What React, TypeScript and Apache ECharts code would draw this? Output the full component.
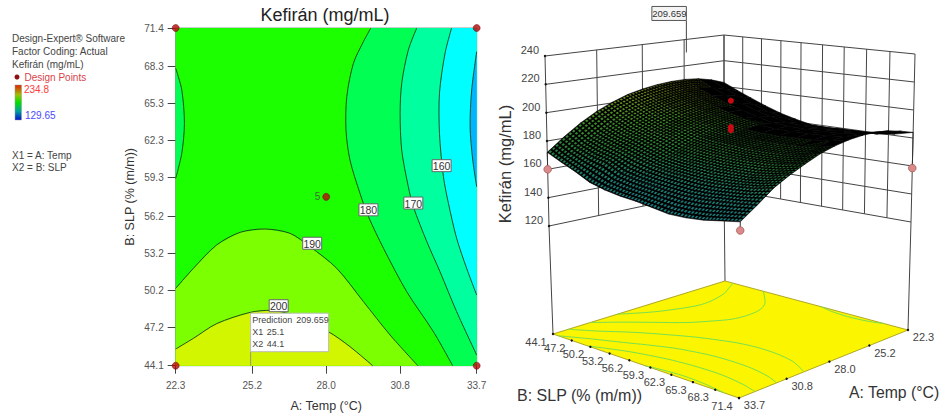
import React, { useEffect, useRef } from "react";
import * as echarts from "echarts";

const FONT = "Liberation Sans, Arial, sans-serif";

// ---- tick values
const tempTicks = [22.3, 25.2, 28.0, 30.8, 33.7];
const slpTicks = [44.1, 47.2, 50.2, 53.2, 56.2, 59.3, 62.3, 65.3, 68.3, 71.4];
const zTicks = [120, 140, 160, 180, 200, 220, 240];

// ---- contour lines: [Temp, SLP]
const contour200 = [[22.3,45.45],[22.97,46.31],[23.85,47.5],[25.12,48.41],[25.94,48.57],[26.63,48.26],[28.08,46.85],[28.9,45.64],[29.76,44.1]];
const contour190 = [[22.3,50.35],[22.97,51.97],[23.85,53.86],[24.74,54.88],[25.68,55.15],[26.63,54.8],[27.39,53.72],[28.4,51.97],[29.41,49.28],[30.42,46.58],[31.47,44.1]];
const contour180 = [[29.69,71.4],[29.41,70.3],[29.03,68.54],[28.78,65.85],[28.75,63.15],[28.9,60.73],[29.28,58.03],[29.6,56.15],[30.17,53.59],[31.05,50.08],[32.06,46.85],[32.79,44.1]];
const contour180Left = [[22.3,68.14],[22.53,66.39],[22.63,63.69],[22.53,61.27],[22.3,59.24]];
const contour170 = [[31.43,71.4],[31.11,69.62],[30.86,66.93],[30.8,64.5],[30.86,61.53],[31.11,58.57],[31.3,56.95],[31.81,54.13],[32.31,51.7],[32.94,48.47],[33.7,44.96]];
const contour160 = [[32.75,71.4],[32.5,69.35],[32.29,66.12],[32.29,62.88],[32.44,59.38],[32.63,57.22],[32.94,54.4],[33.32,51.97],[33.7,49.81]];
const contour150 = [[33.7,69.49],[33.51,66.39],[33.45,63.42],[33.55,60.73],[33.7,58.57]];

const corners = { ll: [22.3, 44.1], lr: [33.7, 44.1], ur: [33.7, 71.4], ul: [22.3, 71.4] };
const bands = [
  { color: "#1cff00", pts: [corners.ll, corners.lr, corners.ur, corners.ul] },
  { color: "#00ff52", pts: [...contour180, corners.lr, corners.ur] },
  { color: "#00ff52", pts: contour180Left },
  { color: "#00ff9e", pts: [...contour170, corners.lr, corners.ur] },
  { color: "#00ffff", pts: [...contour160, corners.lr, corners.ur] },
  { color: "#00b4ff", pts: contour150 },
  { color: "#7cff00", pts: [...contour190, corners.ll] },
  { color: "#d2f500", pts: [...contour200, corners.ll] },
];
const contours = [contour200, contour190, contour180, contour180Left, contour170, contour160, contour150];

const contourLabels = [
  { level: "160", at: [32.37, 60.27] },
  { level: "170", at: [31.3, 57.25] },
  { level: "180", at: [29.6, 56.7] },
  { level: "190", at: [27.47, 54.0] },
  { level: "200", at: [26.2, 48.95] },
];
const designPoints2D = [[22.3, 44.1], [22.3, 71.4], [33.7, 44.1], [33.7, 71.4], [28.0, 57.75]];
const prediction = { temp: 25.1, slp: 44.1, value: 209.659 };

// ---- fitted surface: one row per SLP, one column per Temp
const tempGrid = [22.3, 23.25, 24.2, 25.15, 26.1, 27.05, 28.0, 28.95, 29.9, 30.85, 31.8, 32.75, 33.7];
const slpGrid = [44.1, 46.4, 48.6, 50.9, 53.2, 55.5, 57.75, 60, 62.3, 64.6, 66.9, 69.1, 71.4];
const surface = [
  [203, 206.5, 208.8, 209.7, 209.6, 208.7, 207, 204.5, 200.5, 195.5, 189, 181, 172],
  [198, 201, 203.5, 204.5, 204.5, 203.5, 201.5, 198.5, 194, 188, 181.5, 175, 167],
  [193.5, 196.5, 199, 200, 200, 199, 197, 193.5, 189, 183.5, 178, 171, 162.5],
  [189, 192, 194.5, 196, 196, 195, 192.5, 189, 185, 180.5, 174.5, 168.5, 157],
  [185, 188, 190.8, 192.5, 192.8, 191.5, 189.3, 186, 182, 176.5, 171, 163, 154],
  [182, 185, 187.5, 189.3, 189.8, 188.5, 186, 182.5, 178, 173, 168, 160.5, 152],
  [179.5, 182.5, 184.8, 186.3, 186.5, 185.5, 183.5, 181, 176.5, 171.3, 166, 159, 150.8],
  [179, 182, 184, 185.5, 185.5, 184.5, 182.5, 180.2, 175.5, 170.5, 165, 157.5, 149],
  [179.5, 182, 184, 185, 185.3, 184.3, 182.5, 179.3, 175, 169.8, 164, 156.5, 147],
  [179.5, 182.2, 184.2, 185.3, 185.5, 184.5, 182.5, 179.3, 175, 169.8, 164, 156.5, 147],
  [179.3, 182.5, 184.6, 185.8, 186, 185, 183, 179.7, 175.6, 170, 164.8, 157.5, 148],
  [181, 184, 186, 187, 187.2, 186.2, 184, 180.8, 177, 171.5, 165.8, 158.5, 150],
  [184, 186.8, 189, 190, 190, 189, 187, 184, 179.5, 174.5, 168.5, 160, 152],
];
const centerRuns3D = [207.5, 188.8, 186.7];
const cornerRuns3D = [
  { temp: 33.7, slp: 44.1, z: 160, surf: 172 },
  { temp: 33.7, slp: 71.4, z: 146.5, surf: 152 },
  { temp: 22.3, slp: 71.4, z: 158.5, surf: 184 },
];

// ---- camera: where the corners of the 3D box land on the page [back, left(33.7,44.1), front, right(22.3,71.4)]
const floorQuad = [[725, 281], [553, 334], [739, 398], [908, 330]];
const z120Quad = [[724, 189], [549, 226], [740, 272], [911, 222]];
const z240Quad = [[724, 35], [545, 56], [741, 84], [915, 54]];

function homography(q: number[][]) {
  const [[x0, y0], [x1, y1], [x2, y2], [x3, y3]] = q;
  const dx1 = x1 - x2, dx2 = x3 - x2, sx = x0 - x1 + x2 - x3;
  const dy1 = y1 - y2, dy2 = y3 - y2, sy = y0 - y1 + y2 - y3;
  const den = dx1 * dy2 - dx2 * dy1;
  const g = (sx * dy2 - dx2 * sy) / den, h = (dx1 * sy - sx * dy1) / den;
  const a = x1 - x0 + g * x1, b = x3 - x0 + h * x3, d = y1 - y0 + g * y1, e = y3 - y0 + h * y3;
  return (u: number, v: number) => {
    const w = g * u + h * v + 1;
    return [(a * u + b * v + x0) / w, (d * u + e * v + y0) / w];
  };
}
const Hfloor = homography(floorQuad), H120 = homography(z120Quad), H240 = homography(z240Quad);
const uOf = (t: number) => (t - 22.3) / 11.4;
const vOf = (s: number) => (s - 44.1) / 27.3;
const onFloor = (t: number, s: number) => Hfloor(uOf(t), vOf(s));
const project = (t: number, s: number, z: number) => {
  const p = H120(uOf(t), vOf(s)), q = H240(uOf(t), vOf(s)), k = (z - 120) / 120;
  return [p[0] + (q[0] - p[0]) * k, p[1] + (q[1] - p[1]) * k];
};

// ---- 3D wall lines, built from the ticks
const wallLines: number[][][] = [];
zTicks.forEach((z) => {
  wallLines.push([project(33.7, 44.1, z), project(22.3, 44.1, z)]);
  wallLines.push([project(22.3, 44.1, z), project(22.3, 71.4, z)]);
});
tempTicks.forEach((t) => wallLines.push([project(t, 44.1, 120), project(t, 44.1, 240)]));
slpTicks.forEach((s) => wallLines.push([project(22.3, s, 120), project(22.3, s, 240)]));
wallLines.push([onFloor(33.7, 44.1), project(33.7, 44.1, 120)]);
wallLines.push([onFloor(22.3, 44.1), project(22.3, 44.1, 120)]);
wallLines.push([onFloor(22.3, 71.4), project(22.3, 71.4, 120)]);

const SUB = 5;
const lerp = (a: number, b: number, k: number) => a + (b - a) * k;
function dotColor(z: number, lit: number) {
  const stops = [[145, 22, 120, 128], [160, 26, 120, 108], [175, 40, 125, 55], [190, 60, 135, 38], [205, 115, 140, 28]];
  let c = stops[stops.length - 1];
  if (z <= stops[0][0]) c = stops[0];
  else for (let i = 0; i < stops.length - 1; i++) {
    if (z >= stops[i][0] && z <= stops[i + 1][0]) {
      const k = (z - stops[i][0]) / (stops[i + 1][0] - stops[i][0]);
      c = [z, lerp(stops[i][1], stops[i + 1][1], k), lerp(stops[i][2], stops[i + 1][2], k), lerp(stops[i][3], stops[i + 1][3], k)];
      break;
    }
  }
  return `rgb(${Math.round(c[1] * lit)},${Math.round(c[2] * lit)},${Math.round(c[3] * lit)})`;
}
const area = (a: number[], b: number[], c: number[], d: number[]) =>
  Math.abs((c[0] - a[0]) * (d[1] - b[1]) - (d[0] - b[0]) * (c[1] - a[1])) / 2;

const surfaceCells: number[][] = [];
for (let j = 0; j < slpGrid.length - 1; j++) for (let i = 0; i < tempGrid.length - 1; i++) surfaceCells.push([i, j]);
surfaceCells.sort((a, b) => a[0] + a[1] - b[0] - b[1]);

function renderSurfaceCell(params: any) {
  const [i, j] = surfaceCells[params.dataIndex];
  const zAt = (s: number, t: number) =>
    lerp(lerp(surface[j][i], surface[j][i + 1], s), lerp(surface[j + 1][i], surface[j + 1][i + 1], s), t);
  const P = (s: number, t: number) =>
    project(lerp(tempGrid[i], tempGrid[i + 1], s), lerp(slpGrid[j], slpGrid[j + 1], t), zAt(s, t));
  const children: any[] = [
    {
      type: "polygon",
      shape: { points: [P(0, 0), P(1, 0), P(1, 1), P(0, 1)] },
      style: { fill: "#000", stroke: "#000", lineWidth: 0.6 },
    },
  ];
  for (let a = 0; a < SUB; a++) for (let b = 0; b < SUB; b++) {
    const s0 = (a + 0.22) / SUB, s1 = (a + 0.78) / SUB, t0 = (b + 0.22) / SUB, t1 = (b + 0.78) / SUB;
    const p = [P(s0, t0), P(s1, t0), P(s1, t1), P(s0, t1)];
    const ar = area(p[0], p[1], p[2], p[3]);
    const lit = Math.min(1, Math.max(0, (ar - 1.5) / 1.6));
    if (lit <= 0.02) continue;
    children.push({
      type: "polygon",
      shape: { points: p },
      style: { fill: dotColor(zAt((a + 0.5) / SUB, (b + 0.5) / SUB), 0.3 + 0.75 * lit) },
    });
  }
  return { type: "group", children };
}

const textEl = (x: number, y: number, text: string, fontSize: number, fill: string, align = "center", extra: any = {}) => ({
  type: "text",
  x,
  y,
  ...extra,
  style: { text, fontSize, fontFamily: FONT, fill, align, verticalAlign: "middle" },
});

function renderFloorLabels() {
  const kids: any[] = [];
  slpTicks.forEach((s) => {
    const p = onFloor(33.7, s);
    kids.push({ type: "circle", shape: { cx: p[0], cy: p[1], r: 1.2 }, style: { fill: "#111" } });
    kids.push(textEl(p[0] - 17, p[1] + 7.5, s.toFixed(1), 11, "#444"));
  });
  tempTicks.forEach((t) => {
    const p = onFloor(t, 71.4);
    kids.push({ type: "circle", shape: { cx: p[0], cy: p[1], r: 1.2 }, style: { fill: "#111" } });
    kids.push(textEl(p[0] + 15.5, p[1] + 7, t.toFixed(1), 11, "#444"));
  });
  zTicks.forEach((z) => {
    const p = project(33.7, 44.1, z);
    kids.push({ type: "circle", shape: { cx: p[0], cy: p[1], r: 1.2 }, style: { fill: "#111" } });
    kids.push(textEl(p[0] - 6, p[1] - 6, String(z), 11, "#444", "right"));
  });
  return { type: "group", children: kids };
}

const noneSeries = (data: any[], renderItem: any) => ({
  type: "custom",
  coordinateSystem: "none",
  silent: true,
  animation: false,
  data,
  renderItem,
});

const legendLines = [
  { text: "Design-Expert® Software", x: 12, y: 38, color: "#444" },
  { text: "Factor Coding: Actual", x: 12, y: 51, color: "#444" },
  { text: "Kefirán (mg/mL)", x: 12, y: 64, color: "#444" },
  { text: "Design Points", x: 24.5, y: 77, color: "#d8434a" },
  { text: "234.8", x: 24, y: 89.5, color: "#ff3b3b" },
  { text: "129.65", x: 25, y: 115.5, color: "#4a4aff" },
  { text: "X1 = A: Temp", x: 12, y: 155, color: "#444" },
  { text: "X2 = B: SLP", x: 12, y: 167, color: "#444" },
];

export default function App() {
  const ref = useRef<HTMLDivElement>(null);
  useEffect(() => {
    const chart = echarts.init(ref.current!, undefined, { renderer: "svg" });
    const axisCommon = {
      axisLine: { show: true, onZero: false, lineStyle: { color: "#8c9a9a", width: 1 } },
      axisTick: { show: true, length: 8, lineStyle: { color: "#444" } },
      splitLine: { show: false },
      nameLocation: "middle",
      nameTextStyle: { color: "#333", fontSize: 12.5, fontFamily: FONT },
    };
    chart.setOption({
      animation: false,
      title: {
        text: "Kefirán (mg/mL)",
        left: 320,
        top: 1,
        textAlign: "center",
        textStyle: { fontSize: 18, fontWeight: "normal", color: "#222", fontFamily: FONT },
      },
      grid: {
        left: 175.7,
        top: 28,
        width: 301,
        height: 337.7,
        show: true,
        borderColor: "#8c9a9a",
        backgroundColor: "transparent",
        outerBoundsMode: "none",
      },
      xAxis: {
        ...axisCommon,
        type: "value",
        min: 22.3,
        max: 33.7,
        name: "A: Temp (°C)",
        nameGap: 34,
        axisTick: { ...axisCommon.axisTick, customValues: tempTicks },
        axisLabel: { customValues: tempTicks, formatter: (v: number) => v.toFixed(1), color: "#555", fontSize: 10, fontFamily: FONT, margin: 15 },
      },
      yAxis: {
        ...axisCommon,
        type: "value",
        min: 44.1,
        max: 71.4,
        name: "B: SLP (% (m/m))",
        nameGap: 39,
        axisTick: { ...axisCommon.axisTick, customValues: slpTicks },
        axisLabel: { customValues: slpTicks, formatter: (v: number) => v.toFixed(1), color: "#555", fontSize: 10, fontFamily: FONT, margin: 12 },
      },
      graphic: [
        ...legendLines.map((l) => ({
          type: "text",
          x: l.x,
          y: l.y,
          style: { text: l.text, fontSize: 10, fontFamily: FONT, fill: l.color, align: "left", verticalAlign: "middle" },
        })),
        { type: "circle", shape: { cx: 17, cy: 77, r: 2.5 }, style: { fill: "#8c1010" } },
        {
          type: "rect",
          shape: { x: 15, y: 85, width: 6.5, height: 35 },
          style: {
            stroke: "#999",
            lineWidth: 0.5,
            fill: new echarts.graphic.LinearGradient(0, 0, 0, 1, [
              { offset: 0, color: "#e02000" },
              { offset: 0.28, color: "#a0c000" },
              { offset: 0.5, color: "#00e000" },
              { offset: 0.75, color: "#00a0a0" },
              { offset: 1, color: "#0010d0" },
            ]),
          },
        },
      ],
      series: [
        // ---- 2D contour panel
        {
          type: "custom",
          coordinateSystem: "cartesian2d",
          silent: true,
          data: bands.map((b) => b.pts[0]),
          renderItem: (params: any, api: any) => {
            const b = bands[params.dataIndex];
            return { type: "polygon", shape: { points: b.pts.map((p) => api.coord(p)) }, style: { fill: b.color } };
          },
        },
        {
          type: "custom",
          coordinateSystem: "cartesian2d",
          silent: true,
          data: contours.map((c) => c[0]),
          renderItem: (params: any, api: any) => ({
            type: "polyline",
            shape: { points: contours[params.dataIndex].map((p) => api.coord(p)), smooth: 0.3 },
            style: { stroke: "#1b3a1b", fill: "none", lineWidth: 0.9 },
          }),
        },
        {
          type: "custom",
          coordinateSystem: "cartesian2d",
          silent: true,
          data: contourLabels.map((l) => l.at),
          renderItem: (params: any, api: any) => {
            const l = contourLabels[params.dataIndex];
            const c = api.coord(l.at);
            return {
              type: "group",
              children: [
                { type: "rect", shape: { x: c[0] - 9.5, y: c[1] - 6, width: 19, height: 12 }, style: { fill: "#fff", stroke: "#666", lineWidth: 1 } },
                textEl(c[0], c[1] + 0.5, l.level, 10.5, "#333"),
              ],
            };
          },
        },
        {
          type: "custom",
          coordinateSystem: "cartesian2d",
          silent: true,
          data: [[prediction.temp, prediction.slp]],
          renderItem: (_: any, api: any) => {
            const c = api.coord([prediction.temp, prediction.slp]);
            const x = c[0] + 1, y = c[1] - 52.5;
            return {
              type: "group",
              children: [
                { type: "line", shape: { x1: x, y1: y + 38, x2: x, y2: c[1] }, style: { stroke: "#9a9a70", lineWidth: 1 } },
                { type: "rect", shape: { x, y, width: 78, height: 38.5 }, style: { fill: "#fff", stroke: "#bbb", lineWidth: 1 } },
                textEl(x + 1.5, y + 7, "Prediction", 9, "#444", "left"),
                textEl(x + 45.5, y + 7, String(prediction.value), 9, "#444", "left"),
                textEl(x + 1.5, y + 19, "X1", 9, "#444", "left"),
                textEl(x + 16, y + 19, String(prediction.temp), 9, "#444", "left"),
                textEl(x + 1.5, y + 31, "X2", 9, "#444", "left"),
                textEl(x + 16, y + 31, String(prediction.slp), 9, "#444", "left"),
              ],
            };
          },
        },
        {
          type: "scatter",
          clip: false,
          silent: true,
          symbolSize: 7,
          itemStyle: { color: "#b80808", borderColor: "#6a0000", borderWidth: 0.6 },
          data: designPoints2D,
          label: {
            show: true,
            position: "left",
            distance: 2,
            fontSize: 10,
            color: "#444",
            fontFamily: FONT,
            formatter: (p: any) => (p.dataIndex === 4 ? "5" : ""),
          },
        },
        // ---- 3D panel
        noneSeries(wallLines.map((_, i) => [i]), (params: any) => {
          const [a, b] = wallLines[params.dataIndex];
          return { type: "line", shape: { x1: a[0], y1: a[1], x2: b[0], y2: b[1] }, style: { stroke: "#444", lineWidth: 1 } };
        }),
        noneSeries([[0]], () => ({
          type: "polygon",
          shape: { points: floorQuad },
          style: { fill: "#fbf500", stroke: "#b0a820", lineWidth: 1 },
        })),
        noneSeries(contours.map((_, i) => [i]), (params: any) => ({
          type: "polyline",
          shape: { points: contours[params.dataIndex].map((p) => onFloor(p[0], p[1])), smooth: 0.3 },
          style: { stroke: "#78e050", fill: "none", lineWidth: 1 },
        })),
        noneSeries([[0]], renderFloorLabels),
        noneSeries(cornerRuns3D.map((_, i) => [i]), (params: any) => {
          const r = cornerRuns3D[params.dataIndex];
          const p = project(r.temp, r.slp, r.z), q = project(r.temp, r.slp, r.surf);
          return { type: "line", shape: { x1: p[0], y1: p[1], x2: q[0], y2: q[1] }, style: { stroke: "#333", lineWidth: 1 } };
        }),
        noneSeries(surfaceCells.map((_, i) => [i]), renderSurfaceCell),
        noneSeries(cornerRuns3D.map((_, i) => [i]), (params: any) => {
          const r = cornerRuns3D[params.dataIndex];
          const p = project(r.temp, r.slp, r.z);
          return { type: "circle", shape: { cx: p[0], cy: p[1], r: 3.8 }, style: { fill: "#d98a8a", stroke: "#a85c5c", lineWidth: 0.8 } };
        }),
        noneSeries(centerRuns3D.map((_, i) => [i]), (params: any) => {
          const p = project(28.0, 57.75, centerRuns3D[params.dataIndex]);
          return { type: "circle", shape: { cx: p[0], cy: p[1], r: 3 }, style: { fill: "#c80a14" } };
        }),
        noneSeries([[0]], () => {
          const p = project(prediction.temp + 0.05, prediction.slp, prediction.value);
          const x = p[0] + 1.5;
          return {
            type: "group",
            children: [
              { type: "line", shape: { x1: x, y1: p[1] - 59, x2: x, y2: p[1] - 27 }, style: { stroke: "#444", lineWidth: 1 } },
              { type: "rect", shape: { x: x - 34.5, y: p[1] - 73, width: 34.5, height: 14 }, style: { fill: "#f4f4f4", stroke: "#555", lineWidth: 1 } },
              textEl(x - 17, p[1] - 66, String(prediction.value), 9.5, "#333"),
            ],
          };
        }),
        noneSeries([[0]], () => ({
          type: "group",
          children: [
            textEl(505, 164, "Kefirán (mg/mL)", 16.5, "#333", "center", { rotation: Math.PI / 2 }),
            textEl(517, 395, "B: SLP (% (m/m))", 16, "#333", "left"),
            textEl(849, 392, "A: Temp (°C)", 15.8, "#333", "left"),
          ],
        })),
      ],
    });
    return () => chart.dispose();
  }, []);
  return <div ref={ref} style={{ position: "absolute", left: 0, top: 0, width: 943, height: 414, background: "#fff" }} />;
}
